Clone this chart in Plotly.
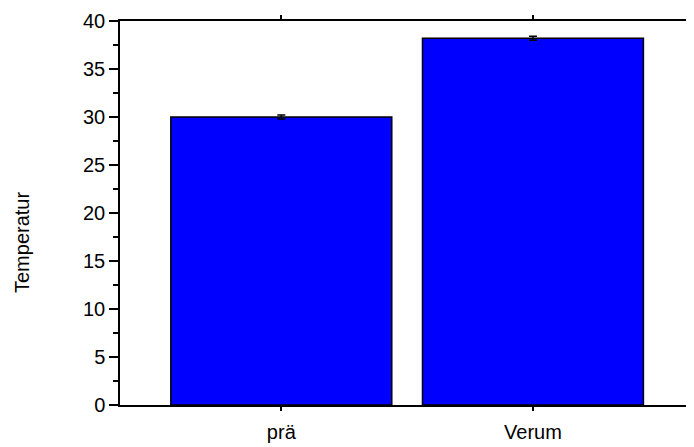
import plotly.graph_objects as go

categories = ["prä", "Verum"]
values = [30.0, 38.2]
errors = [0.2, 0.2]
y_title = "Temperatur"

# the page body adds an 8px offset; size and margins compensate for it
W, H = 686, 439
L, R, T, B = 112, 0, 13, 42

fig = go.Figure()
fig.add_trace(go.Bar(
    x=[0, 1], y=values, width=0.878,
    marker=dict(color="#0000FF", line=dict(color="black", width=1.5)),
    error_y=dict(type="data", array=errors, visible=True, color="black", thickness=1.5, width=4),
))

font = dict(family="Liberation Sans, Arial, sans-serif", size=20, color="black")
fig.update_layout(
    width=W, height=H,
    margin=dict(l=L, r=R, t=T, b=B, autoexpand=False),
    plot_bgcolor="white", paper_bgcolor="white",
    showlegend=False, font=font,
    xaxis=dict(range=[-0.641, 1.64], tickmode="array", tickvals=[0, 1], ticktext=categories,
               showline=True, linecolor="black", linewidth=1.5, mirror="ticks",
               ticks="outside", ticklen=4, tickwidth=1.5, tickcolor="black", automargin=False,
               showgrid=False, zeroline=False, ticklabelstandoff=4),
    yaxis=dict(range=[0, 40], dtick=5, showline=True, linecolor="black", linewidth=1.5,
               ticks="outside", ticklen=9, tickwidth=1.5, tickcolor="black", automargin=False,
               minor=dict(dtick=2.5, ticks="outside", ticklen=5, tickwidth=1.5, tickcolor="black", showgrid=False),
               showgrid=False, zeroline=False, ticklabelstandoff=0),
)
pw, ph = W - L - R, H - T - B
fig.add_annotation(text=y_title, x=(22 - 8 - L) / pw, y=(H - B - (242 - 8)) / ph,
                   xref="paper", yref="paper", showarrow=False, xanchor="center", yanchor="middle",
                   textangle=-90, font=dict(family=font["family"], size=20, color="black"))
fig.write_html("out.html")
